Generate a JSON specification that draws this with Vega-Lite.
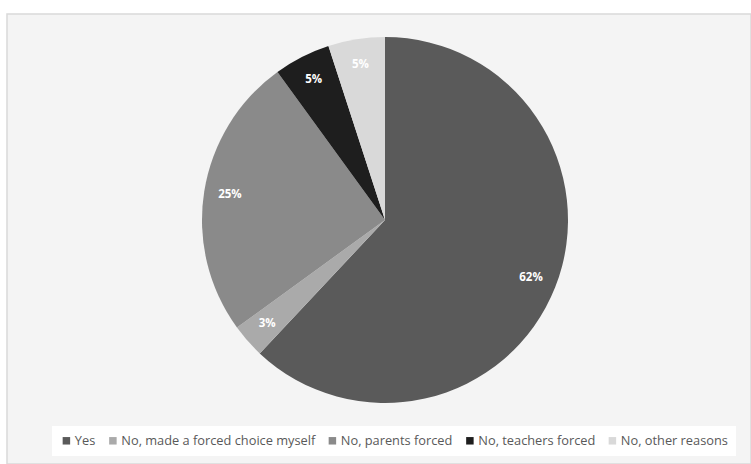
{
  "$schema": "https://vega.github.io/schema/vega-lite/v6.json",
  "width": 751,
  "height": 464,
  "autosize": {"type": "fit", "contains": "padding"},
  "padding": {"left": 7, "top": 14, "right": 0, "bottom": 0},
  "background": "white",
  "view": {"fill": "#f4f4f4", "stroke": "#d9d9d9", "strokeWidth": 1.5},
  "data": {
    "values": [
      {"answer": "Yes", "pct": 62, "ord": 1},
      {"answer": "No, made a forced choice myself", "pct": 3, "ord": 2},
      {"answer": "No, parents forced", "pct": 25, "ord": 3},
      {"answer": "No, teachers forced", "pct": 5, "ord": 4},
      {"answer": "No, other reasons", "pct": 5, "ord": 5}
    ]
  },
  "encoding": {
    "theta": {"field": "pct", "type": "quantitative", "stack": true},
    "order": {"field": "ord", "type": "quantitative"}
  },
  "layer": [
    {
      "mark": {"type": "arc", "outerRadius": 183, "xOffset": 6, "yOffset": -19, "strokeWidth": 0},
      "encoding": {
        "color": {
          "field": "answer",
          "type": "nominal",
          "sort": ["Yes", "No, made a forced choice myself", "No, parents forced", "No, teachers forced", "No, other reasons"],
          "scale": {
            "domain": ["Yes", "No, made a forced choice myself", "No, parents forced", "No, teachers forced", "No, other reasons"],
            "range": ["#5a5a5a", "#aaaaaa", "#8a8a8a", "#1e1e1e", "#d9d9d9"]
          },
          "legend": {
            "title": null,
            "orient": "none",
            "direction": "horizontal",
            "legendX": 45,
            "legendY": 412,
            "symbolType": "square",
            "symbolSize": 56,
            "symbolStrokeWidth": 0,
            "labelFont": "Open Sans",
            "labelFontSize": 12.8,
            "labelLimit": 400,
            "labelColor": "#595959",
            "labelOffset": 2,
            "columnPadding": 10.5,
            "fillColor": "white",
            "padding": 8
          }
        }
      }
    },
    {
      "mark": {"type": "text", "radius": 157, "xOffset": 6, "yOffset": -19, "font": "Open Sans", "fontSize": 11.5, "fontWeight": "bold", "fill": "white"},
      "encoding": {
        "text": {"field": "label", "type": "nominal"}
      },
      "transform": [{"calculate": "datum.pct + '%'", "as": "label"}]
    }
  ]
}
